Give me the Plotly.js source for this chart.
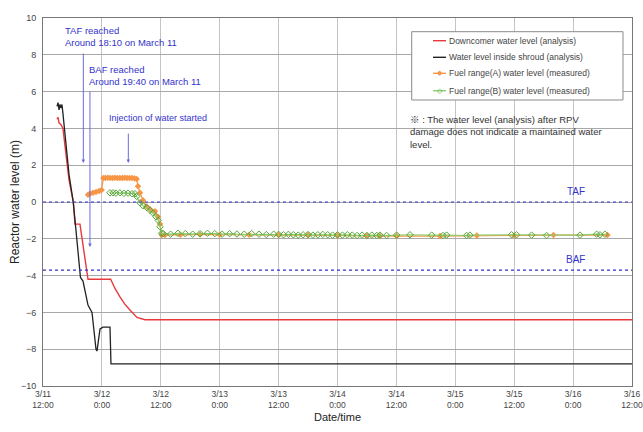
<!DOCTYPE html>
<html>
<head>
<meta charset="utf-8">
<script src="https://cdn.plot.ly/plotly-3.0.1.min.js"></script>
<style>html,body{margin:0;padding:0;background:#fff;}#chart{width:643px;height:432px;}</style>
</head>
<body>
<div id="chart"></div>
<script>
// ---- Data ----
const redTimes = ['2011-03-11 14:51','2011-03-11 15:04','2011-03-11 15:16','2011-03-11 15:40','2011-03-11 16:04','2011-03-11 16:50','2011-03-11 17:18','2011-03-11 18:10','2011-03-11 18:31','2011-03-11 19:32','2011-03-11 21:10','2011-03-12 01:47','2011-03-12 02:40','2011-03-12 03:41','2011-03-12 04:40','2011-03-12 05:43','2011-03-12 07:09','2011-03-12 08:47','2011-03-16 12:00'];
const redLevel = [4.5,4.6,4.3,4.2,4.0,2.3,1.2,0.0,-1.2,-1.2,-4.2,-4.2,-4.7,-5.15,-5.55,-5.87,-6.27,-6.4,-6.4];

const blackTimes = ['2011-03-11 14:51','2011-03-11 15:04','2011-03-11 15:16','2011-03-11 15:28','2011-03-11 15:40','2011-03-11 15:52','2011-03-11 16:04','2011-03-11 16:41','2011-03-11 17:18','2011-03-11 18:10','2011-03-11 18:43','2011-03-11 19:08','2011-03-11 19:38','2011-03-11 20:09','2011-03-11 20:33','2011-03-11 21:10','2011-03-11 21:59','2011-03-11 22:23','2011-03-11 22:48','2011-03-11 23:00','2011-03-11 23:19','2011-03-11 23:37','2011-03-12 00:13','2011-03-12 01:39','2011-03-12 01:51','2011-03-16 12:00'];
const blackLevel = [5.2,5.4,5.0,5.3,5.1,5.3,4.8,3.0,1.5,0.0,-1.5,-2.8,-4.1,-4.3,-4.8,-5.6,-6.0,-7.0,-8.0,-8.1,-7.5,-6.9,-6.8,-6.8,-8.8,-8.8];

const orangeTimes = ['2011-03-11 21:10','2011-03-11 21:34','2011-03-11 22:11','2011-03-11 22:48','2011-03-11 23:25','2011-03-11 23:57','2011-03-12 00:17','2011-03-12 00:40','2011-03-12 01:10','2011-03-12 01:40','2011-03-12 02:10','2011-03-12 02:40','2011-03-12 03:10','2011-03-12 03:40','2011-03-12 04:10','2011-03-12 04:40','2011-03-12 05:10','2011-03-12 05:40','2011-03-12 06:10','2011-03-12 06:40','2011-03-12 07:05','2011-03-12 07:21','2011-03-12 07:46','2011-03-12 08:22','2011-03-12 09:07','2011-03-12 09:48','2011-03-12 10:49','2011-03-12 11:26','2011-03-12 11:50','2011-03-12 12:11','2011-03-12 12:51','2011-03-12 16:00','2011-03-12 20:00','2011-03-13 00:00','2011-03-13 06:00','2011-03-13 12:00','2011-03-13 18:00','2011-03-14 00:00','2011-03-14 06:00','2011-03-14 08:39','2011-03-14 12:03','2011-03-14 20:52','2011-03-15 04:24','2011-03-15 12:00','2011-03-15 20:00','2011-03-16 07:00'];
const orangeLevel = [0.4,0.45,0.5,0.55,0.6,0.65,1.3,1.3,1.32,1.3,1.3,1.32,1.3,1.3,1.3,1.32,1.3,1.3,1.3,1.28,1.25,0.85,0.5,0.1,-0.25,-0.4,-0.5,-0.8,-1.2,-1.8,-1.8,-1.78,-1.76,-1.78,-1.78,-1.8,-1.8,-1.82,-1.84,-1.85,-1.85,-1.85,-1.82,-1.82,-1.8,-1.8];

const greenTimes = ['2011-03-12 01:39','2011-03-12 02:16','2011-03-12 02:52','2011-03-12 03:41','2011-03-12 04:30','2011-03-12 05:19','2011-03-12 06:08','2011-03-12 06:44','2011-03-12 07:05','2011-03-12 07:46','2011-03-12 08:22','2011-03-12 09:07','2011-03-12 09:48','2011-03-12 10:24','2011-03-12 11:01','2011-03-12 11:29','2011-03-12 11:50','2011-03-12 12:11','2011-03-12 12:30','2011-03-12 14:00','2011-03-12 15:30','2011-03-12 17:00','2011-03-12 18:30','2011-03-12 20:00','2011-03-12 21:30','2011-03-12 23:00','2011-03-13 00:30','2011-03-13 02:00','2011-03-13 03:30','2011-03-13 05:00','2011-03-13 06:30','2011-03-13 08:00','2011-03-13 09:30','2011-03-13 11:00','2011-03-13 12:00','2011-03-13 13:00','2011-03-13 14:00','2011-03-13 15:00','2011-03-13 16:00','2011-03-13 17:00','2011-03-13 18:00','2011-03-13 19:00','2011-03-13 20:00','2011-03-13 21:00','2011-03-13 22:00','2011-03-13 23:00','2011-03-14 00:00','2011-03-14 01:00','2011-03-14 02:00','2011-03-14 03:00','2011-03-14 04:00','2011-03-14 05:00','2011-03-14 06:00','2011-03-14 07:00','2011-03-14 08:00','2011-03-14 08:39','2011-03-14 10:00','2011-03-14 12:03','2011-03-14 14:46','2011-03-14 19:11','2011-03-14 21:29','2011-03-14 22:14','2011-03-15 02:19','2011-03-15 02:59','2011-03-15 11:28','2011-03-15 12:29','2011-03-15 15:33','2011-03-15 18:36','2011-03-16 01:24','2011-03-16 04:48','2011-03-16 05:28','2011-03-16 06:29'];
const greenLevel = [0.5,0.5,0.48,0.5,0.47,0.48,0.45,0.45,0.3,-0.05,-0.2,-0.3,-0.45,-0.6,-0.8,-1.0,-1.35,-1.7,-1.72,-1.75,-1.7,-1.72,-1.75,-1.72,-1.7,-1.72,-1.75,-1.72,-1.74,-1.75,-1.72,-1.75,-1.77,-1.75,-1.76,-1.78,-1.76,-1.78,-1.8,-1.78,-1.77,-1.8,-1.78,-1.76,-1.78,-1.8,-1.78,-1.8,-1.78,-1.8,-1.82,-1.8,-1.82,-1.8,-1.82,-1.8,-1.82,-1.8,-1.78,-1.8,-1.82,-1.8,-1.82,-1.8,-1.78,-1.78,-1.8,-1.82,-1.8,-1.75,-1.78,-1.75];

const tickTimes = ['2011-03-11 12:00','2011-03-12 00:00','2011-03-12 12:00','2011-03-13 00:00','2011-03-13 12:00','2011-03-14 00:00','2011-03-14 12:00','2011-03-15 00:00','2011-03-15 12:00','2011-03-16 00:00','2011-03-16 12:00'];
const tickLabels = ['3/11<br>12:00','3/12<br>0:00','3/12<br>12:00','3/13<br>0:00','3/13<br>12:00','3/14<br>0:00','3/14<br>12:00','3/15<br>0:00','3/15<br>12:00','3/16<br>0:00','3/16<br>12:00'];

const TAF = 0.0;
const BAF = -3.7;

const seriesNames = ['Downcomer water level (analysis)','Water level inside shroud (analysis)','Fuel range(A) water level (measured)','Fuel range(B) water level (measured)'];
const seriesColors = ['#e8393c', '#222222', '#f79646', '#8ccf6f'];
const seriesGlyphs = ['', '', '◆', '◇'];
const glyphColors = ['', '', '#f79646', '#5aa83c'];

// ---- Traces ----
const traces = [
  {x: redTimes, y: redLevel, name: seriesNames[0], mode: 'lines', line: {color: seriesColors[0], width: 1.4}},
  {x: blackTimes, y: blackLevel, name: seriesNames[1], mode: 'lines', line: {color: seriesColors[1], width: 1.3}},
  {x: orangeTimes, y: orangeLevel, name: seriesNames[2], mode: 'lines+markers', line: {color: seriesColors[2], width: 1.2}, marker: {symbol: 'diamond', size: 5, color: seriesColors[2]}},
  {x: greenTimes, y: greenLevel, name: seriesNames[3], mode: 'lines+markers', line: {color: seriesColors[3], width: 1.2}, marker: {symbol: 'diamond-open', size: 5, color: '#5aa83c', line: {width: 1}}}
];

const blue = '#3333cc';
const arrowBlue = '#6a6ae0';

// ---- Custom legend (box, line samples, glyphs, text) in paper coordinates ----
const legendBox = {x0: 0.626, x1: 0.9847, y0: 0.7772, y1: 0.9628};
const legendRowY = [0.9383, 0.8932, 0.8497, 0.8024];
const legendShapes = [{type: 'rect', xref: 'paper', yref: 'paper', x0: legendBox.x0, x1: legendBox.x1, y0: legendBox.y0, y1: legendBox.y1,
                       line: {color: '#8a8a8a', width: 1}, fillcolor: '#ffffff', layer: 'above'}];
const legendAnnots = [];
legendRowY.forEach((yy, i) => {
  legendShapes.push({type: 'line', xref: 'paper', yref: 'paper', x0: 0.6621, x1: 0.6842, y0: yy, y1: yy, line: {color: seriesColors[i], width: 1.4}, layer: 'above'});
  legendAnnots.push({xref: 'paper', yref: 'paper', x: 0.6859, y: yy, xanchor: 'left', yanchor: 'middle', showarrow: false,
                     text: seriesNames[i], font: {size: 8.5, color: '#444'}});
  if (seriesGlyphs[i]) {
    legendAnnots.push({xref: 'paper', yref: 'paper', x: 0.6732, y: yy, xanchor: 'center', yanchor: 'middle', showarrow: false,
                       text: seriesGlyphs[i], font: {size: 7, color: glyphColors[i], family: 'DejaVu Sans'}});
  }
});

const layout = {
  width: 643, height: 432,
  margin: {l: 43, r: 11, t: 18, b: 46},
  paper_bgcolor: '#ffffff', plot_bgcolor: '#ffffff',
  font: {family: 'Liberation Sans, Arial, Noto Sans CJK JP, sans-serif', color: '#333'},
  showlegend: false,
  xaxis: {type: 'date', range: [tickTimes[0], tickTimes[tickTimes.length - 1]], tickmode: 'array', tickvals: tickTimes, ticktext: tickLabels,
          showgrid: true, gridcolor: '#c4c4c4', gridwidth: 1, showline: true, linecolor: '#777', mirror: true, zeroline: false,
          tickfont: {size: 8.5, color: '#444'}, ticks: '', ticklabeloverflow: 'allow',
          title: {text: 'Date/time', font: {size: 11, color: '#222'}, standoff: 4}},
  yaxis: {range: [-10, 10], dtick: 2, tick0: 0, showgrid: true, gridcolor: '#a8a8a8', gridwidth: 1, showline: true, linecolor: '#777', mirror: true, zeroline: false,
          tickfont: {size: 9, color: '#444'}, ticks: 'outside', ticklen: 4, tickcolor: 'rgba(0,0,0,0)'},
  shapes: [
    {type: 'line', xref: 'paper', x0: 0, x1: 1, yref: 'y', y0: TAF, y1: TAF, line: {color: blue, width: 1.2, dash: 'dot'}},
    {type: 'line', xref: 'paper', x0: 0, x1: 1, yref: 'y', y0: BAF, y1: BAF, line: {color: blue, width: 1.2, dash: 'dot'}}
  ].concat(legendShapes),
  annotations: [
    {x: -0.0475, y: 0.5, xref: 'paper', yref: 'paper', xanchor: 'center', yanchor: 'middle', textangle: -90, showarrow: false,
     text: 'Reactor water level (m)', font: {size: 12, color: '#222'}},
    {x: '2011-03-11 16:04', y: 9.0, xref: 'x', yref: 'y', xanchor: 'left', yanchor: 'middle', align: 'left', showarrow: false,
     text: 'TAF reached<br>Around 18:10 on March 11', font: {size: 9.5, color: blue}},
    {x: '2011-03-11 20:58', y: 6.85, xref: 'x', yref: 'y', xanchor: 'left', yanchor: 'middle', align: 'left', showarrow: false,
     text: 'BAF reached<br>Around 19:40 on March 11', font: {size: 9.5, color: blue}},
    {x: '2011-03-12 01:02', y: 4.57, xref: 'x', yref: 'y', xanchor: 'left', yanchor: 'middle', align: 'left', showarrow: false,
     text: 'Injection of water started', font: {size: 9, color: blue}},
    {x: '2011-03-11 20:13', y: 2.12, ax: '2011-03-11 20:13', ay: 8.15, xref: 'x', yref: 'y', axref: 'x', ayref: 'y', text: '', showarrow: true,
     arrowhead: 2, arrowsize: 0.7, arrowwidth: 1, arrowcolor: arrowBlue},
    {x: '2011-03-11 21:34', y: -2.45, ax: '2011-03-11 21:34', ay: 6.09, xref: 'x', yref: 'y', axref: 'x', ayref: 'y', text: '', showarrow: true,
     arrowhead: 2, arrowsize: 0.7, arrowwidth: 1, arrowcolor: arrowBlue},
    {x: '2011-03-12 05:23', y: 2.12, ax: '2011-03-12 05:23', ay: 3.8, xref: 'x', yref: 'y', axref: 'x', ayref: 'y', text: '', showarrow: true,
     arrowhead: 2, arrowsize: 0.7, arrowwidth: 1, arrowcolor: arrowBlue},
    {x: 0.924, y: 0.56, xref: 'paper', yref: 'y', showarrow: false, text: 'TAF', font: {size: 10, color: blue}},
    {x: 0.923, y: -3.15, xref: 'paper', yref: 'y', showarrow: false, text: 'BAF', font: {size: 10, color: blue}},
    {x: 0.62, y: 3.78, xref: 'paper', yref: 'y', xanchor: 'left', yanchor: 'middle', align: 'left', showarrow: false,
     text: '※ : The water level (analysis) after RPV<br>damage does not indicate a maintained water<br>level.', font: {size: 9.5, color: '#333'}}
  ].concat(legendAnnots)
};

Plotly.newPlot('chart', traces, layout, {displayModeBar: false, staticPlot: true});
</script>
</body>
</html>
